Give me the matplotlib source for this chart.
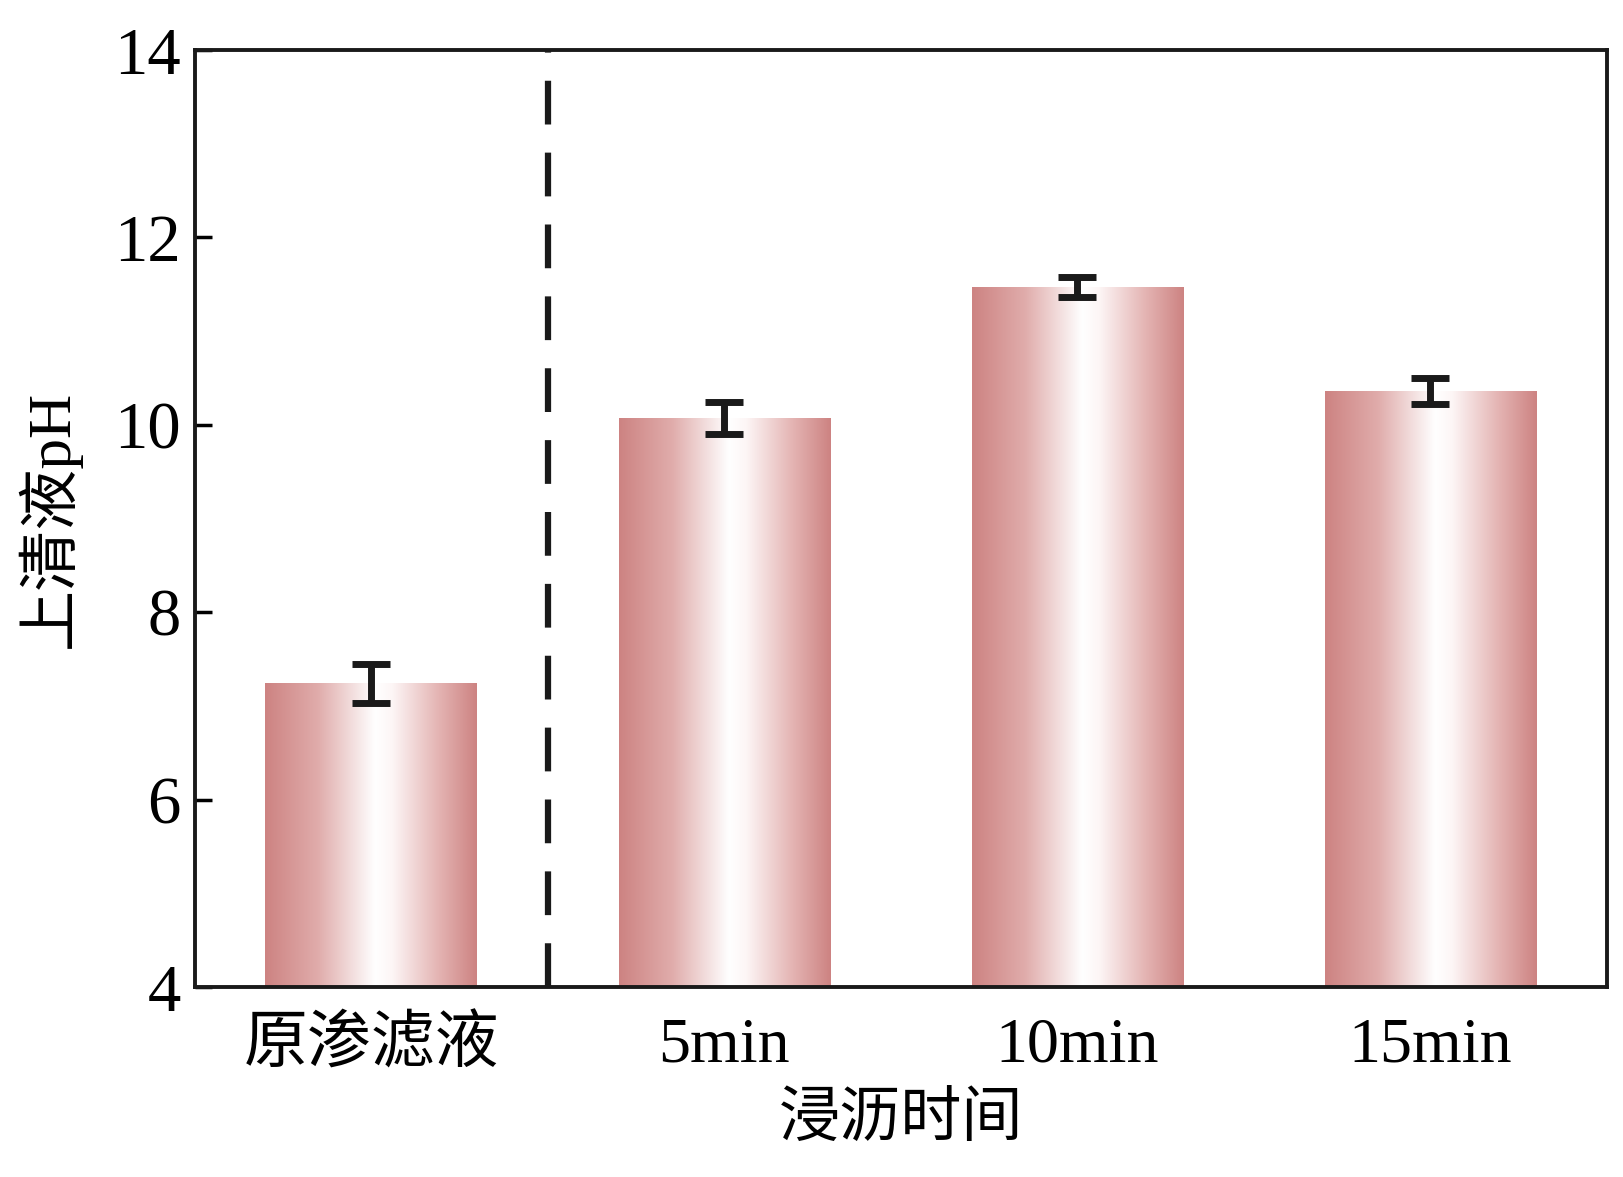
import numpy as np
import matplotlib.pyplot as plt
from matplotlib.colors import LinearSegmentedColormap

categories = ['原渗滤液', '5min', '10min', '15min']
ph_values = [7.24, 10.07, 11.47, 10.36]
ph_errors = [0.21, 0.17, 0.11, 0.14]
yticks = [4, 6, 8, 10, 12, 14]

plt.rcParams['font.family'] = ['Liberation Serif', 'Noto Sans CJK SC']
plt.rcParams['axes.unicode_minus'] = False

fig = plt.figure(figsize=(16.24, 11.77), dpi=100)
ax = fig.add_axes([0.120, 0.1614, 0.8695, 0.7961])
ax.set_xlim(-0.5, 3.5)
ax.set_ylim(4, 14)

x = np.arange(len(categories))
bars = ax.bar(x, ph_values, width=0.6, color='none', edgecolor='none', zorder=2)

# gradient fill: pink edges, white middle
cmap = LinearSegmentedColormap.from_list('pinkbar', [
    (0.0, '#cd8382'), (0.25, '#e0acab'), (0.52, '#ffffff'), (0.6, '#fdf6f6'),
    (0.82, '#e4b4b3'), (1.0, '#cd8382')])
grad = np.linspace(0, 1, 256).reshape(1, -1)
ybottom = ax.get_ylim()[0]
for b in bars:
    x0, w, h = b.get_x(), b.get_width(), b.get_height()
    ax.imshow(grad, cmap=cmap, aspect='auto', extent=[x0, x0 + w, ybottom, h],
              zorder=2, interpolation='bicubic')

ax.errorbar(x, ph_values, yerr=ph_errors, fmt='none', ecolor='#1a1a1a',
            elinewidth=5, capsize=14, capthick=5, zorder=4)

ax.axvline(0.5, color='#1a1a1a', linewidth=4.5, linestyle=(0, (7, 4.5)), zorder=3)

ax.set_yticks(yticks)
ax.set_xticks(x)
ax.set_xticklabels(categories)
ax.tick_params(axis='y', direction='in', length=12, width=2.5, labelsize=48, pad=10)
ax.tick_params(axis='x', length=0, labelsize=46, pad=22)
for s in ax.spines.values():
    s.set_linewidth(2.8)
    s.set_color('#1a1a1a')

ax.set_ylabel('上清液pH', fontsize=44, labelpad=24)
ax.set_xlabel('浸沥时间', fontsize=44, labelpad=12)

fig.savefig('out.png', dpi=100)
